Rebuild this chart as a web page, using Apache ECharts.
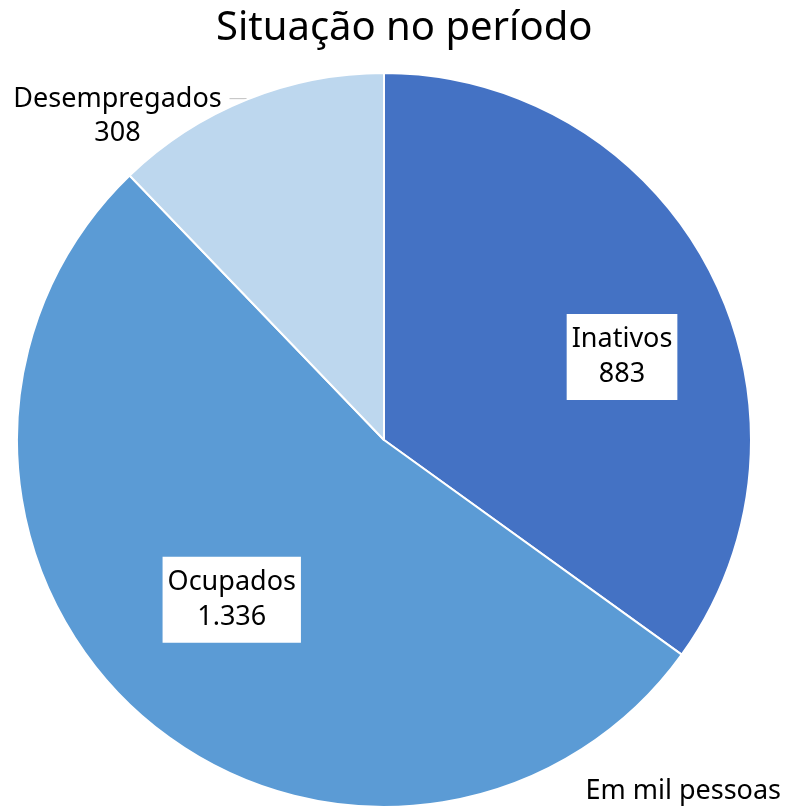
<!DOCTYPE html>
<html>
<head>
<meta charset="utf-8">
<script src="https://cdn.jsdelivr.net/npm/echarts@6/dist/echarts.min.js"></script>
<style>
  html, body { margin: 0; padding: 0; background: #fff; }
  #chart { width: 787px; height: 807px; }
</style>
</head>
<body>
<div id="chart"></div>
<script>
// dados (em mil pessoas)
var categorias = ['Inativos', 'Ocupados', 'Desempregados'];
var valores = [883, 1336, 308];
var cores = ['#4472C4', '#5B9BD5', '#BDD7EE'];

// 1336 -> "1.336"
function fmt(v) {
    return String(v).replace(/\B(?=(\d{3})+(?!\d))/g, '.');
}

(function () {
    var mychart = echarts.init(document.getElementById('chart'));
    var fonte = 'Noto Sans';
    var dados = categorias.map(function (c, i) {
        var item = { name: c, value: valores[i], itemStyle: { color: cores[i] } };
        if (i === 2) {
            // rótulo de fora, com linha guia
            item.label = {
                position: 'outside',
                backgroundColor: 'transparent',
                padding: 0,
                formatter: function (p) {
                    return '{n|' + p.name + '}\n{n|' + fmt(p.value) + '}';
                },
                rich: {
                    n: { width: 214, align: 'center', fontSize: 27, lineHeight: 34, color: '#000', fontFamily: fonte }
                }
            };
            item.labelLine = { show: true, length: 1, length2: 17, lineStyle: { color: '#bfbfbf', width: 1 } };
        }
        return item;
    });
    var option = {
        animation: false,
        title: {
            text: 'Situação no período',
            left: 211,
            top: 4,
            textStyle: { fontFamily: fonte, fontSize: 40, fontWeight: 'normal', color: '#000' }
        },
        graphic: [{
            type: 'text',
            right: 6,
            bottom: 2,
            style: { text: 'Em mil pessoas', fontFamily: fonte, fontSize: 27, fill: '#000' }
        }],
        series: [{
            type: 'pie',
            center: [384, 440],
            radius: 367,
            startAngle: 90,
            clockwise: true,
            avoidLabelOverlap: false,
            itemStyle: { borderColor: '#fff', borderWidth: 2 },
            label: {
                show: true,
                position: 'inside',
                formatter: function (p) { return p.name + '\n' + fmt(p.value); },
                fontFamily: fonte,
                fontSize: 27,
                lineHeight: 35,
                color: '#000',
                align: 'center',
                backgroundColor: '#fff',
                padding: [8, 5, 8, 5]
            },
            labelLine: { show: false },
            labelLayout: function (params) {
                if (params.dataIndex === 0) return { dx: 72, dy: 2 };
                if (params.dataIndex === 1) return { dx: -30, dy: 19 };
                return { dy: 18 };
            },
            data: dados
        }]
    };
    mychart.setOption(option);
    window.addEventListener('resize', function () {
        mychart.resize();
    });
})();
</script>
</body>
</html>
